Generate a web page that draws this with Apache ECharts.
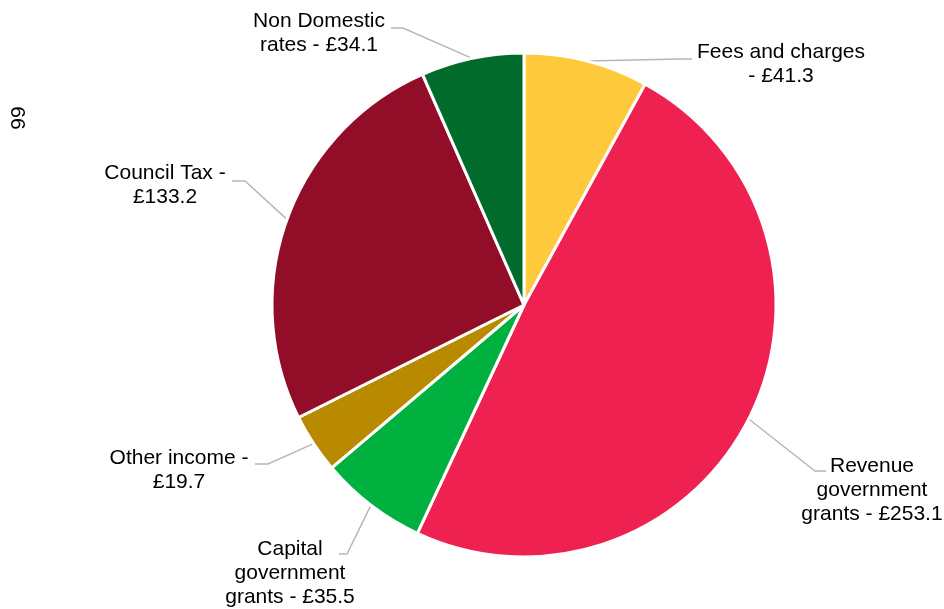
<!DOCTYPE html>
<html>
<head>
<meta charset="utf-8">
<script src="https://cdn.jsdelivr.net/npm/echarts@6/dist/echarts.min.js"></script>
<style>
  html, body { margin: 0; padding: 0; background: #fff; }
  #chart { width: 944px; height: 609px; }
</style>
</head>
<body>
<div id="chart"></div>
<script>
// income sources (£m), clockwise from 12 o'clock
const categories = ['Fees and charges', 'Revenue government grants', 'Capital government grants', 'Other income', 'Council Tax', 'Non Domestic rates'];
const values = [41.3, 253.1, 35.5, 19.7, 133.2, 34.1];
// label text, wrapped as in the original
const labelText = [
  'Fees and charges\n- £41.3',
  'Revenue\ngovernment\ngrants - £253.1',
  'Capital\ngovernment\ngrants - £35.5',
  'Other income -\n£19.7',
  'Council Tax -\n£133.2',
  'Non Domestic\nrates - £34.1'
];
const pageNumber = '99';

const colors = ['#FFC93C', '#EE2150', '#00B140', '#B98A00', '#920D28', '#006B2B'];
// centre of each label block
const labelPos = [[781, 64], [872, 490], [290, 573], [179, 470], [165, 185], [319, 33]];
// leader line bend and end (the start is the slice edge from the pie layout)
const leaderBend = [[680, 59], [815, 471], [347, 554], [268, 464], [245, 181], [403, 28]];
const leaderEnd = [[692, 59], [826, 471], [339, 554], [255, 464], [232, 181], [391, 28]];

const chart = echarts.init(document.getElementById('chart'));

chart.setOption({
  animation: false,
  color: colors,
  graphic: [{
    type: 'text',
    x: 19,
    y: 118,
    rotation: Math.PI / 2,
    style: {
      text: pageNumber,
      font: '21px "Liberation Sans", Arial, sans-serif',
      fill: '#000',
      align: 'center',
      verticalAlign: 'middle'
    }
  }],
  series: [{
    type: 'pie',
    left: 0,
    top: 0,
    right: -200,
    bottom: -200,
    center: [524, 305],
    radius: 252,
    startAngle: 90,
    clockwise: true,
    itemStyle: { borderColor: '#fff', borderWidth: 3 },
    label: {
      show: true,
      formatter: (p) => labelText[p.dataIndex],
      fontFamily: '"Liberation Sans", Arial, sans-serif',
      fontSize: 21,
      lineHeight: 24,
      color: '#000',
      overflow: 'none',
      bleedMargin: 0
    },
    labelLine: {
      show: true,
      length: 15,
      length2: 12,
      lineStyle: { color: '#BFB3B3', width: 1.5 }
    },
    labelLayout: (p) => {
      const i = p.dataIndex;
      const start = p.labelLinePoints ? p.labelLinePoints[0] : leaderBend[i];
      return {
        x: labelPos[i][0],
        y: labelPos[i][1],
        align: 'center',
        verticalAlign: 'middle',
        labelLinePoints: [start, leaderBend[i], leaderEnd[i]]
      };
    },
    emphasis: { disabled: true },
    data: categories.map((name, i) => ({ name: name, value: values[i] }))
  }]
});
</script>
</body>
</html>
